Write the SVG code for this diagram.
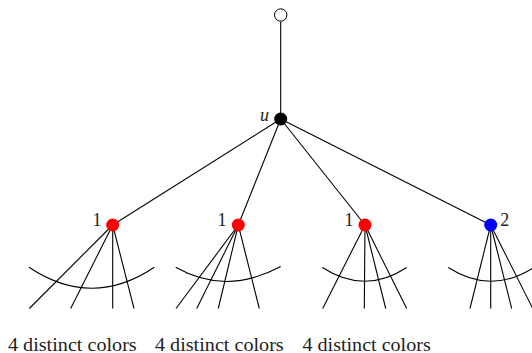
<svg xmlns="http://www.w3.org/2000/svg" width="532" height="353" viewBox="0 0 532 353">
<style>
.e{stroke:#000;stroke-width:1.1;fill:none}
text{font-family:'Liberation Serif','Times New Roman','DejaVu Serif',serif;fill:#222}
.lab{font-size:18px}
.cap{font-size:18.5px}
</style>
<rect width="532" height="353" fill="#fff"/>
<g id="connectors" class="e">
<line x1="280.7" y1="21.5" x2="280.7" y2="119"/>
<line x1="280.7" y1="119" x2="112.7" y2="225"/>
<line x1="280.7" y1="119" x2="238.3" y2="225"/>
<line x1="280.7" y1="119" x2="365" y2="225"/>
<line x1="280.7" y1="119" x2="490.7" y2="225"/>
<line x1="112.7" y1="225" x2="29.3" y2="308.5"/>
<line x1="112.7" y1="225" x2="70.7" y2="308.5"/>
<line x1="112.7" y1="225" x2="112.7" y2="308.5"/>
<line x1="112.7" y1="225" x2="134" y2="308.5"/>
<path d="M29,267.3 Q92,309.3 154.3,267.3"/>
<line x1="238.3" y1="225" x2="176" y2="308.5"/>
<line x1="238.3" y1="225" x2="196.7" y2="308.5"/>
<line x1="238.3" y1="225" x2="218.3" y2="308.5"/>
<line x1="238.3" y1="225" x2="259.3" y2="308.5"/>
<path d="M175.7,267.3 Q226,296 280.7,266.5"/>
<line x1="365" y1="225" x2="322.7" y2="308.5"/>
<line x1="365" y1="225" x2="364.3" y2="308.5"/>
<line x1="365" y1="225" x2="385.7" y2="308.5"/>
<line x1="365" y1="225" x2="406.7" y2="308.5"/>
<path d="M322.3,267.5 Q365,295 406.7,267.5"/>
<line x1="490.7" y1="225" x2="470" y2="308.5"/>
<line x1="490.7" y1="225" x2="490.7" y2="308.5"/>
<line x1="490.7" y1="225" x2="511.7" y2="308.5"/>
<line x1="490.7" y1="225" x2="532.7" y2="308.5"/>
<path d="M448.3,267.5 Q491,295 533.7,267.5"/>
</g>
<g id="top"><circle cx="280.7" cy="15" r="6.2" fill="#fff" stroke="#000" stroke-width="1"/></g>
<g id="u"><circle cx="280.7" cy="119" r="6.5" fill="#000"/><text class="lab" x="260" y="121" font-style="italic">u</text></g>
<g id="c1"><circle cx="112.7" cy="225" r="6.5" fill="#f00"/><text class="lab" x="92.5" y="225.5">1</text></g>
<g id="c2"><circle cx="238.3" cy="225" r="6.5" fill="#f00"/><text class="lab" x="217.5" y="225.5">1</text></g>
<g id="c3"><circle cx="365" cy="225" r="6.5" fill="#f00"/><text class="lab" x="344.5" y="225.5">1</text></g>
<g id="c4"><circle cx="490.7" cy="225" r="6.5" fill="#00f"/><text class="lab" x="500.3" y="225.5">2</text></g>
<g id="captions">
<text class="cap" x="8" y="350.5" textLength="128.7" lengthAdjust="spacingAndGlyphs">4 distinct colors</text>
<text class="cap" x="155" y="350.5" textLength="128.7" lengthAdjust="spacingAndGlyphs">4 distinct colors</text>
<text class="cap" x="302.5" y="350.5" textLength="128.2" lengthAdjust="spacingAndGlyphs">4 distinct colors</text>
</g>
</svg>
